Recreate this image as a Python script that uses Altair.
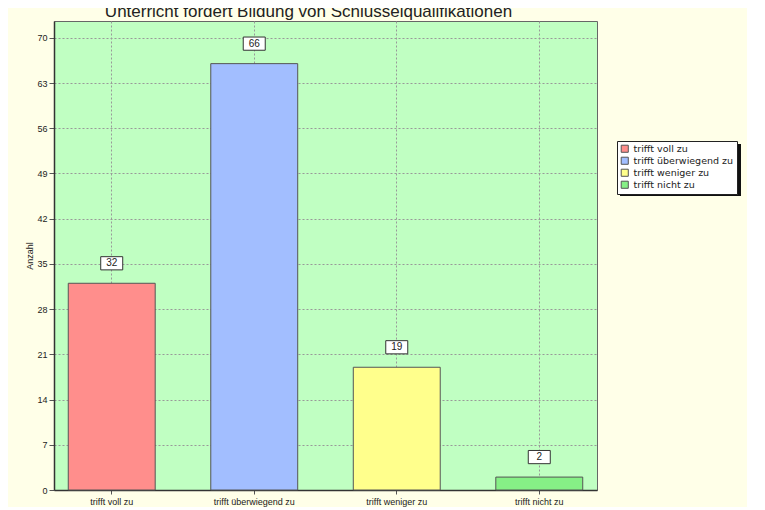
import altair as alt
import pandas as pd

categories = ["trifft voll zu", "trifft überwiegend zu", "trifft weniger zu", "trifft nicht zu"]
counts = [32, 66, 19, 2]
colors = ["#FF8E8C", "#A2BEFF", "#FFFF8C", "#86F086"]
y_ticks = [0, 7, 14, 21, 28, 35, 42, 49, 56, 63, 70]

df = pd.DataFrame({"Antwort": categories, "Anzahl": counts})

FONT = "Liberation Sans"

x_enc = alt.X("Antwort:N", sort=categories,
              scale=alt.Scale(paddingInner=0.39, paddingOuter=0.1),
              axis=alt.Axis(title="Antwort", labelAngle=0, labelFontSize=9, labelColor="#222",
                            labelFont=FONT, tickSize=4, tickColor="#555", labelPadding=3,
                            grid=True, gridColor="#999", gridDash=[2, 2], gridOpacity=1,
                            domainColor="#333", domainWidth=1.5, titleFontSize=9,
                            titleFontWeight="normal", titleColor="#999", titlePadding=4))
y_enc = alt.Y("Anzahl:Q", scale=alt.Scale(domain=[0, 72.6], nice=False),
              axis=alt.Axis(title="Anzahl", values=y_ticks, labelFontSize=9, labelColor="#222",
                            labelFont=FONT, tickSize=5, tickColor="#555", labelPadding=2,
                            grid=True, gridColor="#999", gridDash=[2, 2], gridOpacity=1,
                            domainColor="#333", domainWidth=1.5, titleFontSize=9,
                            titleFontWeight="normal", titleFont=FONT, titleColor="#222",
                            titlePadding=2))

bars = alt.Chart(df).mark_bar(stroke="#555", strokeWidth=1).encode(
    x=x_enc,
    y=y_enc,
    color=alt.Color("Antwort:N", sort=categories,
                    scale=alt.Scale(domain=categories, range=colors),
                    legend=alt.Legend(title=None, orient="none", legendX=563, legendY=120,
                                      fillColor="white", strokeColor="#222", padding=3,
                                      symbolType="square", symbolSize=50, symbolStrokeColor="#555",
                                      symbolStrokeWidth=1, labelFontSize=9.5, labelFont="DejaVu Sans",
                                      labelColor="#222", rowPadding=0, labelOffset=4,
                                      cornerRadius=0)),
)

shadow = alt.Chart(df).mark_rect(color="#111").encode(
    x=alt.value(566), x2=alt.value(687), y=alt.value(123), y2=alt.value(175)
)

box_path = "M-1,-0.6L1,-0.6L1,0.6L-1,0.6Z"
boxes = alt.Chart(df).mark_point(shape=box_path, filled=True, fill="white", stroke="#333",
                                 strokeWidth=1, opacity=1, size=484, yOffset=-20).encode(
    x=alt.X("Antwort:N", sort=categories), y="Anzahl:Q"
)
labels = alt.Chart(df).mark_text(fontSize=10, font=FONT, color="#222", yOffset=-20,
                                 baseline="middle").encode(
    x=alt.X("Antwort:N", sort=categories), y="Anzahl:Q", text="Anzahl:Q"
)

chart = alt.layer(shadow, bars, boxes, labels).properties(
    width=543, height=469,
    autosize=alt.AutoSizeParams(type="none"),
    padding={"left": 46, "top": 13, "right": 150, "bottom": 17},
    title=alt.Title("Unterricht fördert Bildung von Schlüsselqualifikationen",
                    fontSize=17, font=FONT, fontWeight="normal", color="#222",
                    offset=0, dx=-17),
    background="#FFFFE8",
).configure_view(fill="#C0FFC2", stroke="#666", strokeWidth=1)

chart.save("out.html", embed_options={"renderer": "svg", "actions": False})
